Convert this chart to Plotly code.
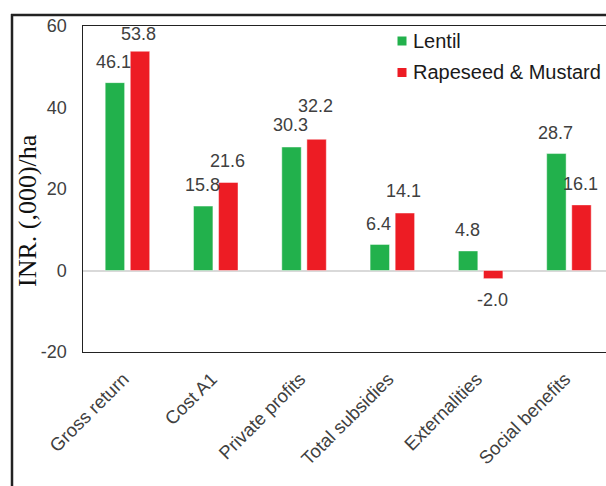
import plotly.graph_objects as go

# Economic indicators for the two crops (INR thousand per hectare)
categories = ["Gross return", "Cost A1", "Private profits",
              "Total subsidies", "Externalities", "Social benefits"]
lentil = [46.1, 15.8, 30.3, 6.4, 4.8, 28.7]
rapeseed_mustard = [53.8, 21.6, 32.2, 14.1, -2.0, 16.1]
series_names = ["Lentil", "Rapeseed & Mustard"]
series_colors = ["#22B14C", "#ED1C24"]
y_ticks = [-20, 0, 20, 40, 60]
y_tick_text = ["-20", "0", "20", "40", "60"]

W, H = 606, 486
FONT = "Liberation Sans, Arial, sans-serif"
TXT = "#404040"

# bar geometry in category units
BAR_W = 0.22
OFFSETS = [-0.252, 0.032]

# vertical distance (px) of each value label from its bar end
label_gap = [
    [21, 21, 22, 20, 21, 21],
    [17, 21, 33, 22, 21, 21],
]

fig = go.Figure()
for name, vals, col, off in zip(series_names, [lentil, rapeseed_mustard],
                                series_colors, OFFSETS):
    fig.add_trace(go.Bar(
        x=categories, y=vals, name=name, width=BAR_W, offset=off,
        marker=dict(color=col, line=dict(color="rgba(255,255,255,0.45)", width=1)),
        showlegend=False,
    ))

# value labels outside the bar ends
annotations = []
for vals, off, gaps in zip([lentil, rapeseed_mustard], OFFSETS, label_gap):
    for i, (v, g) in enumerate(zip(vals, gaps)):
        annotations.append(dict(
            x=i + off + BAR_W / 2, y=v, xref="x", yref="y",
            text=f"{v:.1f}", showarrow=False,
            xanchor="center", yanchor="middle",
            yshift=g if v >= 0 else -g, xshift=-1,
            font=dict(family=FONT, size=18, color=TXT),
        ))

# y-axis title in a serif face
annotations.append(dict(
    x=27 / W, y=1 - 211 / H, xref="paper", yref="paper",
    text="INR. (,000)/ha", textangle=-90, showarrow=False,
    xanchor="center", yanchor="middle",
    font=dict(family="Liberation Serif, Times New Roman, serif", size=26, color="#111111"),
))

# legend entries
shapes = []
for k, (name, col) in enumerate(zip(series_names, series_colors)):
    cy = 41 + k * 31.5
    shapes.append(dict(type="rect", xref="paper", yref="paper",
                       x0=397.5 / W, x1=406.5 / W,
                       y0=1 - (cy + 4.5) / H, y1=1 - (cy - 4.5) / H,
                       fillcolor=col, line=dict(width=0)))
    annotations.append(dict(x=411 / W, y=1 - cy / H, xref="paper", yref="paper",
                            text=name, showarrow=False, xanchor="left", yanchor="middle",
                            font=dict(family=FONT, size=20, color="#1a1a1a")))

# outer frame (left and top edges)
shapes.append(dict(type="line", xref="paper", yref="paper",
                   x0=12 / W, x1=12 / W, y0=0, y1=1 - 14 / H,
                   line=dict(color="#222222", width=2.5)))
shapes.append(dict(type="line", xref="paper", yref="paper",
                   x0=11 / W, x1=1, y0=1 - 15 / H, y1=1 - 15 / H,
                   line=dict(color="#222222", width=2.5)))

slot = 88.3  # px per category
x_lo = -0.5
x_hi = x_lo + (W - 83.3) / slot

fig.update_layout(
    width=W, height=H,
    margin=dict(l=0, r=0, t=0, b=0, autoexpand=False),
    paper_bgcolor="white", plot_bgcolor="white",
    barmode="overlay",
    xaxis=dict(
        domain=[83.3 / W, 1], range=[x_lo, x_hi], automargin=False,
        categoryorder="array", categoryarray=categories,
        showline=True, linecolor="#222222", linewidth=1, mirror=True,
        showgrid=False, ticks="", tickangle=-45,
        ticklabelstandoff=8, ticklabelshift=-4,
        tickfont=dict(family=FONT, size=18.5, color=TXT),
    ),
    yaxis=dict(
        domain=[1 - 352 / H, 1 - 26 / H], range=[-20, 60], automargin=False,
        tickvals=y_ticks, ticktext=y_tick_text,
        showline=True, linecolor="#222222", linewidth=1,
        showgrid=False, ticks="", ticklabelstandoff=12,
        zeroline=True, zerolinecolor="#d9d9d9", zerolinewidth=1.5,
        tickfont=dict(family=FONT, size=18, color=TXT),
    ),
    annotations=annotations,
    shapes=shapes,
)

fig.write_html("out.html")
